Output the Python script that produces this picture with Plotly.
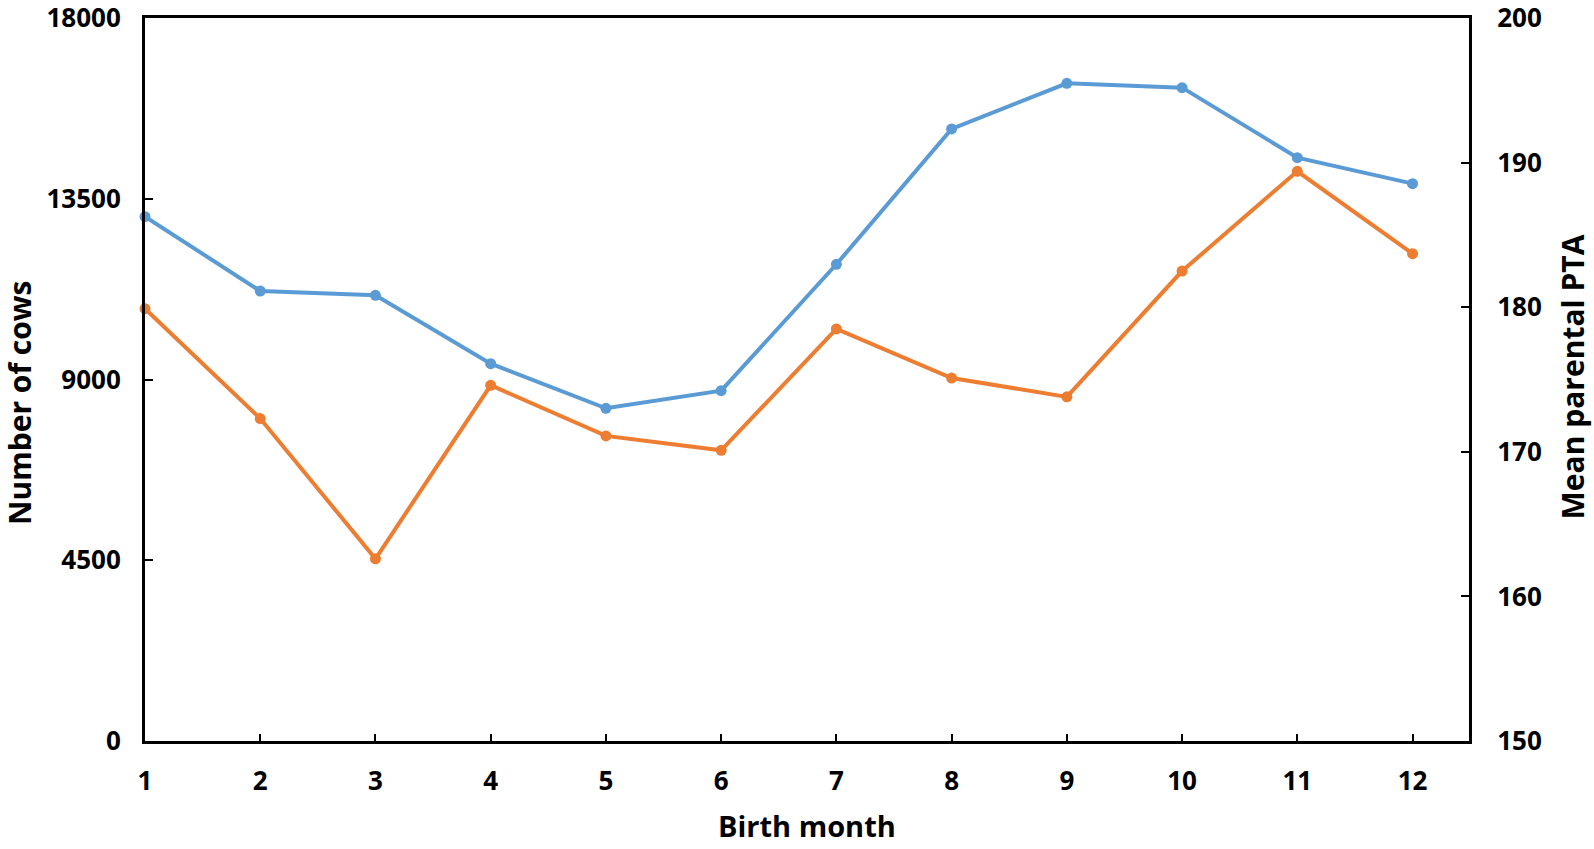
import plotly.graph_objects as go

months = [1, 2, 3, 4, 5, 6, 7, 8, 9, 10, 11, 12]
num_cows = [13053, 11203, 11096, 9394, 8283, 8722, 11868, 15237, 16374, 16266, 14523, 13876]
mean_pta = [179.9, 172.3, 162.6, 174.6, 171.1, 170.1, 178.5, 175.1, 173.8, 182.5, 189.4, 183.7]

left_ticks = [0, 4500, 9000, 13500, 18000]
left_labels = ["0", "4500", "9000", "13500", "18000"]
right_ticks = [150, 160, 170, 180, 190, 200]
right_labels = ["150", "160", "170", "180", "190", "200"]

x_title = "Birth month"
y_title = "Number of cows"
y2_title = "Mean parental PTA"

BLUE = "#5B9BD5"
ORANGE = "#ED7D31"
FONT = "Open Sans"

tickfont = dict(family=FONT, size=26, color="black", weight="bold")

fig = go.Figure()
fig.add_trace(go.Scatter(x=months, y=num_cows, mode="lines+markers", name=y_title,
                         line=dict(color=BLUE, width=4), marker=dict(color=BLUE, size=11),
                         cliponaxis=False, yaxis="y"))
fig.add_trace(go.Scatter(x=months, y=mean_pta, mode="lines+markers", name=y2_title,
                         line=dict(color=ORANGE, width=4), marker=dict(color=ORANGE, size=11),
                         cliponaxis=False, yaxis="y2"))

fig.update_layout(
    width=1594, height=849,
    margin=dict(l=144.5, r=124.5, t=18, b=108),
    paper_bgcolor="white", plot_bgcolor="white",
    showlegend=False,
    font=dict(family=FONT, color="black"),
    xaxis=dict(range=[1, 12.49], tickvals=months, ticks="inside", ticklen=7, tickwidth=2,
               tickcolor="black", showline=True, linecolor="black", linewidth=3, mirror=True,
               showgrid=False, zeroline=False, automargin=False,
               tickfont=tickfont, ticklabelstandoff=15, ticklabeloverflow="allow"),
    yaxis=dict(range=[0, 18000], tickvals=left_ticks, ticktext=left_labels, ticks="inside",
               ticklen=8, tickwidth=2, tickcolor="black", showline=True, linecolor="black",
               linewidth=3, showgrid=False, zeroline=False, automargin=False,
               tickfont=tickfont, ticklabelstandoff=16, ticklabeloverflow="allow"),
    yaxis2=dict(range=[150, 200], tickvals=right_ticks, ticktext=right_labels, ticks="inside",
                ticklen=8, tickwidth=2, tickcolor="black", showline=True, linecolor="black",
                linewidth=3, overlaying="y", side="right", showgrid=False, zeroline=False,
                automargin=False, tickfont=tickfont, ticklabelstandoff=20,
                ticklabeloverflow="allow"),
    annotations=[
        dict(text=x_title, xref="paper", yref="paper", x=0.5, y=-0.117,
             xanchor="center", yanchor="middle", showarrow=False,
             font=dict(family=FONT, size=29, color="black", weight="bold")),
        dict(text=y_title, xref="paper", yref="paper", x=-0.0945, y=0.4675,
             xanchor="center", yanchor="middle", showarrow=False, textangle=-90,
             font=dict(family=FONT, size=30, color="black", weight="bold")),
        dict(text=y2_title, xref="paper", yref="paper", x=1.0789, y=0.5035,
             xanchor="center", yanchor="middle", showarrow=False, textangle=-90,
             font=dict(family=FONT, size=30, color="black", weight="bold")),
    ],
)

fig.write_html("out.html", config={"displayModeBar": False},
               post_script="document.body.style.margin='0';")
